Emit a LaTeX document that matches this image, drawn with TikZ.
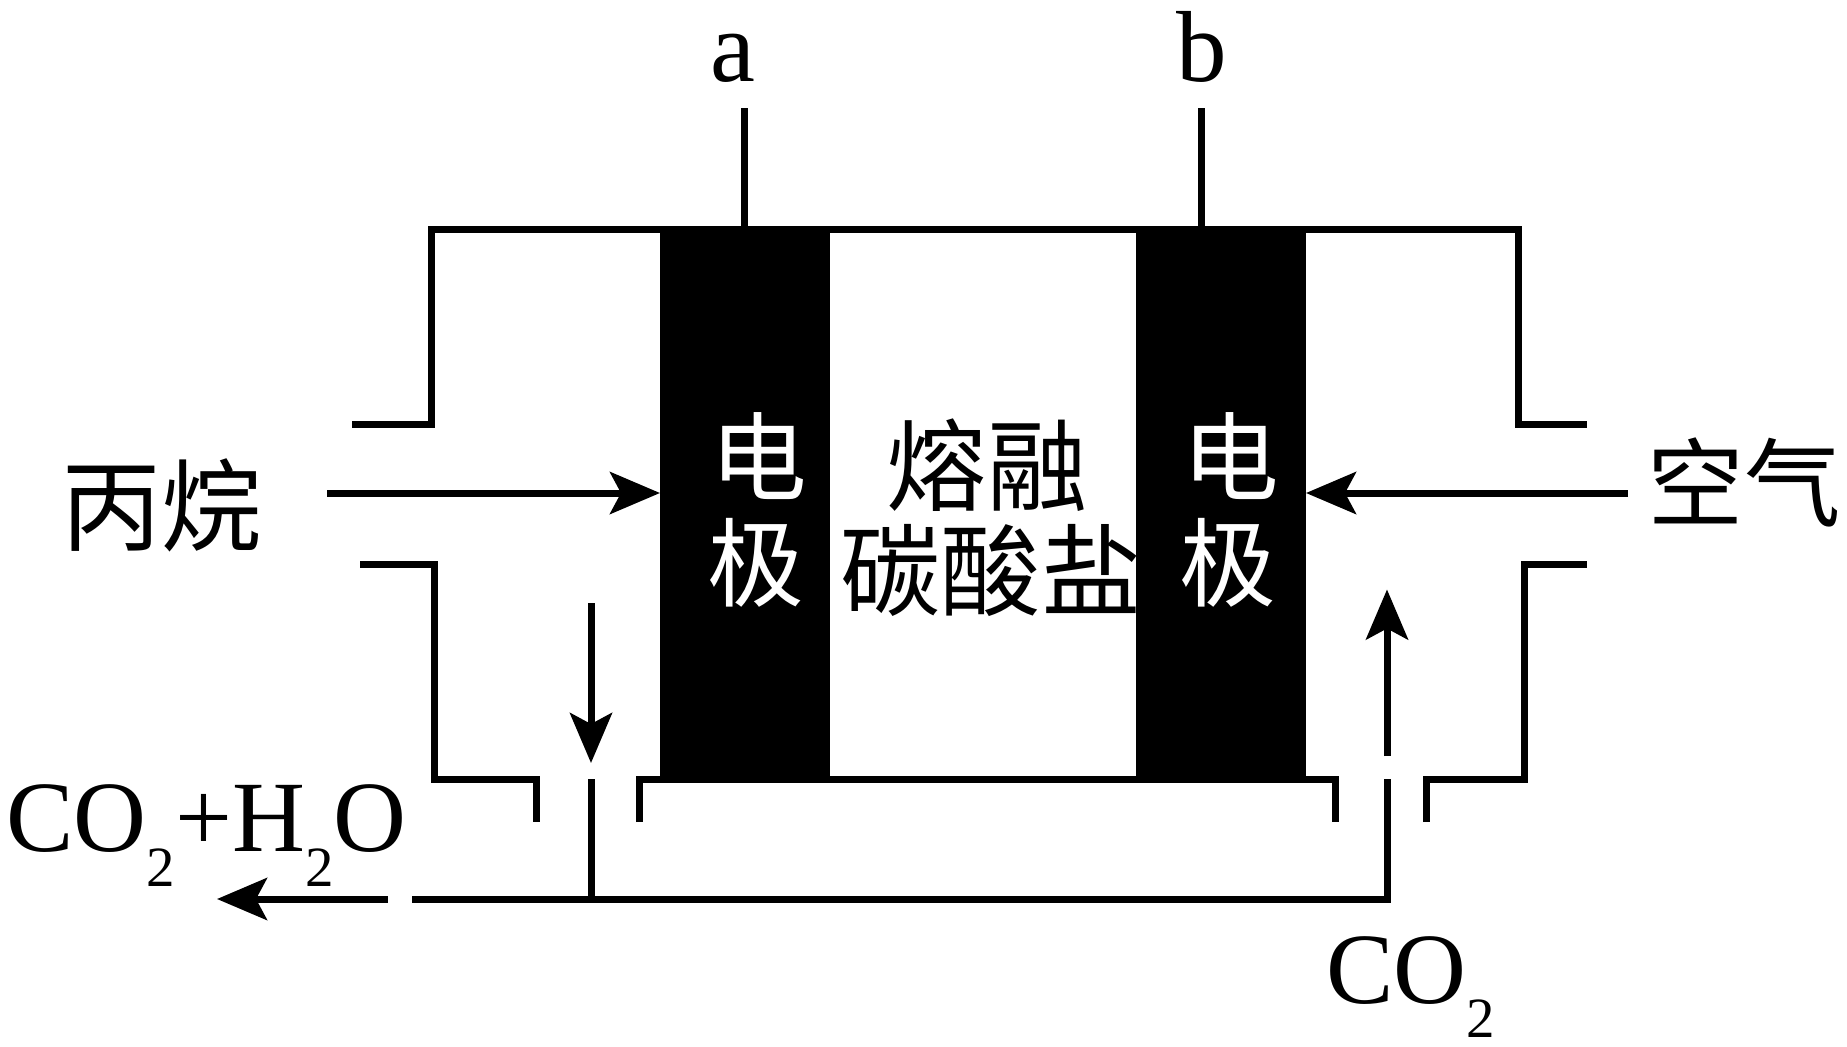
\documentclass[tikz,border=0pt]{standalone}
\usepackage{fontspec}
\setmainfont{Liberation Serif}
\newfontfamily\cjk{Noto Sans CJK SC}
\usetikzlibrary{arrows.meta}
\newcommand{\lowtwo}[1]{\raisebox{-#1}{\fontsize{32.4pt}{32.4pt}\selectfont 2}}
\tikzset{
  wall/.style={line width=0.14cm},
  flow/.style={line width=0.14cm, -{Stealth[length=1cm, width=0.84cm, inset=0.22cm]}},
  electrode/.style={fill=black, inner sep=0pt, minimum width=3.41cm, minimum height=11.15cm},
  latin/.style={inner sep=0pt, anchor=base west, font=\fontsize{57.5pt}{57.5pt}\selectfont},
  hanzi/.style={inner sep=0pt, font=\cjk\fontsize{55pt}{55pt}\selectfont},
  hanziwide/.style={inner sep=0pt, font=\cjk\fontsize{57pt}{57pt}\selectfont},
  hanziwhite/.style={hanzi, text=white}
}
\begin{document}
\begin{tikzpicture}[x=0.02cm, y=-0.02cm]
    \useasboundingbox (0,0) rectangle (1847,1046);

    % casing
    \draw[wall] (352,424.5) -- (431,424.5) -- (431,229) -- (1518.5,229) -- (1518.5,424.5) -- (1587,424.5);
    \draw[wall] (360,564) -- (434,564) -- (434,779) -- (536,779) -- (536,822);
    \draw[wall] (639.5,822) -- (639.5,779) -- (1335.5,779) -- (1335.5,822);
    \draw[wall] (1426,822) -- (1426,779) -- (1524.5,779) -- (1524.5,564) -- (1587,564);

    \node[electrode] (anode) at (745,504.2) {};
    \node[electrode] (cathode) at (1221,504.2) {};

    \node[hanziwhite] (anode_top) at (759,456) {电};
    \node[hanziwhite] (anode_low) at (756,563) {极};
    \node[hanziwhite] (cathode_top) at (1231,456) {电};
    \node[hanziwhite] (cathode_low) at (1228,563) {极};
    \node[hanziwide] (melt_top) at (987,465) {熔融};
    \node[hanziwide] (melt_low) at (991,570) {碳酸盐};
    \node[hanziwide] (propane) at (162,505) {丙烷};
    \node[hanzi] (air) at (1744,482) {空气};

    \node[latin] (label_a) at (710,81) {a};
    \node[latin] (label_b) at (1176,81) {b};
    \node[latin] (exhaust) at (6,851) {CO\lowtwo{0.7cm}+H\lowtwo{0.7cm}O};
    \node[latin] (co_two) at (1326,1003) {CO\lowtwo{0.68cm}};

    \coordinate (lead_a) at (744.5,108);
    \coordinate (lead_a_end) at (744.5,229);
    \coordinate (lead_b) at (1201,108);
    \coordinate (lead_b_end) at (1201,229);
    \coordinate (feed_start) at (327,493);
    \coordinate (feed_end) at (660,493);
    \coordinate (air_start) at (1628,493);
    \coordinate (air_end) at (1306,493);
    \coordinate (down_start) at (591,603);
    \coordinate (down_end) at (591,763);
    \coordinate (branch_top) at (591,779);
    \coordinate (branch_foot) at (591,899);
    \coordinate (rail_left) at (412,899);
    \coordinate (rail_right) at (1387,899);
    \coordinate (rail_top) at (1387,779);
    \coordinate (up_start) at (1387,756);
    \coordinate (up_end) at (1387,589.5);
    \coordinate (out_start) at (387.5,899);
    \coordinate (out_end) at (217,899);

    \draw[wall] (lead_a) -- (lead_a_end);
    \draw[wall] (lead_b) -- (lead_b_end);
    \draw[flow] (feed_start) -- (feed_end);
    \draw[flow] (air_start) -- (air_end);
    \draw[flow] (down_start) -- (down_end);
    \draw[flow] (up_start) -- (up_end);
    \draw[flow] (out_start) -- (out_end);
    \draw[wall] (branch_top) -- (branch_foot);
    \draw[wall] (rail_left) -- (rail_right) -- (rail_top);
\end{tikzpicture}
\end{document}
